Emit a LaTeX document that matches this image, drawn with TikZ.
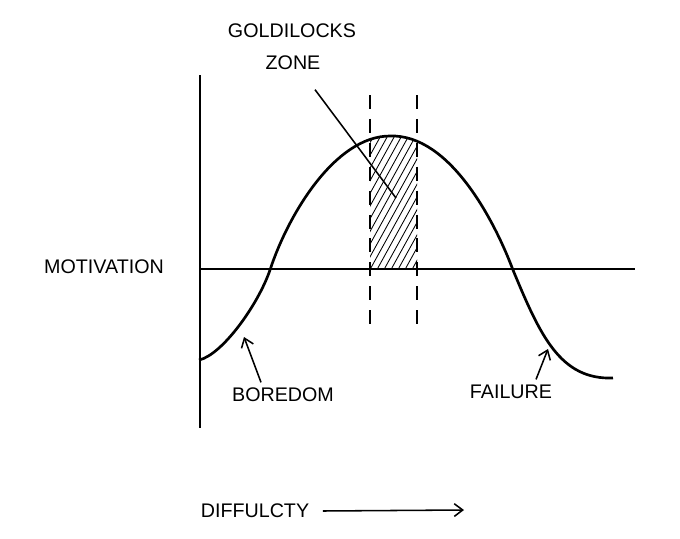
\documentclass[tikz,border=0pt]{standalone}
\usepackage{fontspec}
\setmainfont{Liberation Sans}
\usetikzlibrary{positioning,arrows.meta}

\begin{document}
\begin{tikzpicture}[x=0.025cm,y=-0.025cm,
    label/.style={font=\fontsize{14}{16}\selectfont,inner sep=1pt},
    axis/.style={line width=1.9pt},
    bound/.style={line width=1pt,dash pattern=on 10pt off 7pt},
    pointer/.style={line width=1.1pt,-{Straight Barb[length=6pt,width=9pt,line width=1.1pt]}}]
\useasboundingbox (0,0) rectangle (680,539);

% Define the points of the curve
\coordinate (Start) at (199,360);
\coordinate (Up) at (270,270);
\coordinate (Peak) at (390,136);
\coordinate (Down) at (513,270);
\coordinate (End) at (613,378);

% Hatched zone under the top of the curve
\begin{scope}
  \clip (370,100) rectangle (417,269);
  \clip (Up) .. controls (288,215) and (335,136) .. (Peak)
        .. controls (450,134) and (495,222) .. (Down) -- cycle;
  \foreach \x in {290,297,...,430}
    \draw[line width=0.6pt] (\x,275) -- (\x+80,130);
\end{scope}

% Draw the axes
\coordinate (O) at (200,269);
\coordinate (Ytop) at (200,75);
\coordinate (Ybot) at (200,428);
\coordinate (Xend) at (635,269);
\draw[axis] (Ytop) -- (Ybot);
\draw[axis] (O) -- (Xend);

% Draw the curve
\draw[axis] (Start) .. controls (222,355) and (258,305) .. (Up)
  .. controls (288,215) and (335,136) .. (Peak)
  .. controls (450,134) and (495,222) .. (Down)
  .. controls (540,335) and (560,380) .. (End);

% Dashed bounds of the zone
\coordinate (L1) at (370,95);
\coordinate (L2) at (370,330);
\coordinate (R1) at (417,95);
\coordinate (R2) at (417,330);
\draw[bound] (L1) -- (L2);
\draw[bound] (R1) -- (R2);

% Labels
\node[label] (gold) at (292,31) {GOLDILOCKS};
\node[label] (zone) at (293,63) {ZONE};
\node[label] (motiv) at (104,267) {MOTIVATION};
\node[label] (bored) at (283,395) {BOREDOM};
\node[label] (fail) at (511,392) {FAILURE};
\node[label] (diff) at (255,511) {DIFFULCTY};

% Pointers
\coordinate (Ztip) at (396,198);
\draw[line width=1.1pt] (zone.south) ++(22,18) coordinate (Zstart) -- (Ztip);
\coordinate (Btip) at (244,337);
\draw[pointer] (bored.north) ++(-22,-4) -- (Btip);
\coordinate (Ftip) at (548,349);
\draw[pointer] (fail.north) ++(25,-4) -- (Ftip);
\coordinate (Dend) at (464,510);
\draw[pointer] (diff.east) ++(12,0) -- (Dend);
\end{tikzpicture}
\end{document}
